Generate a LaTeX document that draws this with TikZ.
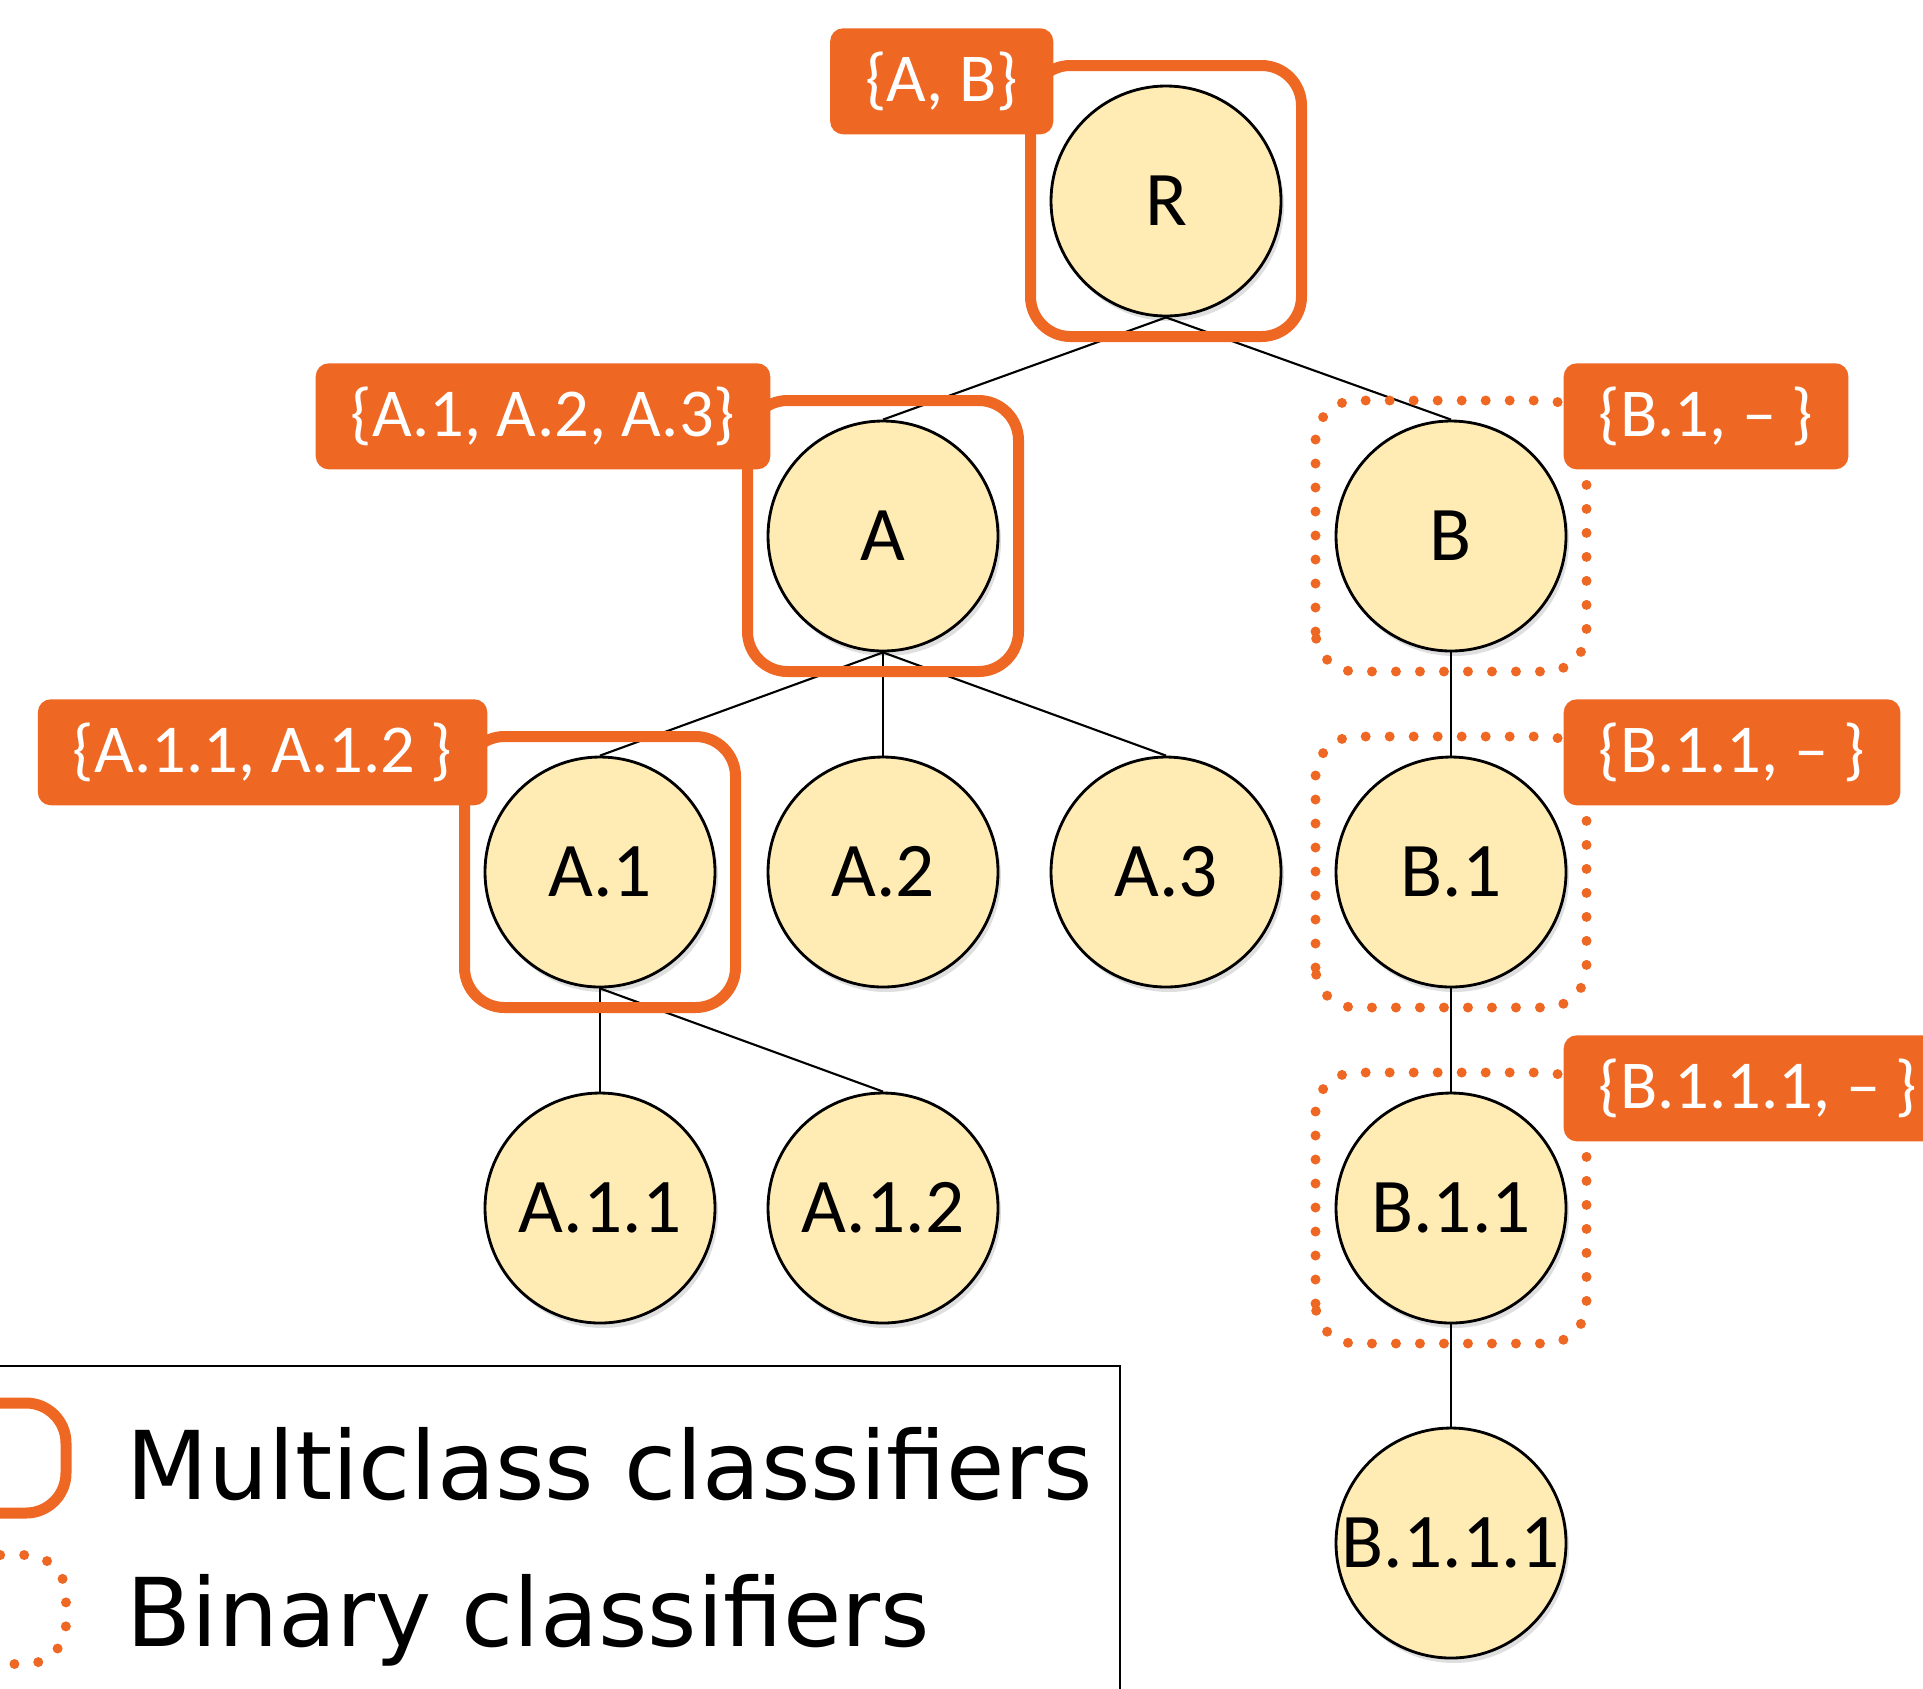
\documentclass[tikz,border=0pt]{standalone}
\usepackage{fontspec}
\setmainfont{Carlito}
\newfontfamily\legendfont{DejaVu Sans}
\usetikzlibrary{shadows}

\definecolor{clsorange}{RGB}{238,103,35}
\definecolor{nodefill}{RGB}{255,235,180}

\tikzset{
  class/.style={circle, draw=black, line width=0.8pt, fill=nodefill, minimum size=2.3cm, inner sep=0pt,
    font=\fontsize{22}{26}\selectfont,
    drop shadow={opacity=0.25, shadow xshift=0.03cm, shadow yshift=-0.05cm}},
  edge/.style={line width=0.6pt},
  multibox/.style={draw=clsorange, line width=0.11cm, rounded corners=0.4cm},
  binbox/.style={draw=clsorange, line width=0.1cm, line cap=round, dash pattern=on 0pt off 0.24cm, rounded corners=0.4cm},
  tag/.style={fill=clsorange, text=white, rounded corners=0.13cm, minimum height=1.06cm, inner xsep=0.35cm,
    font=\fontsize{19.5}{23}\selectfont},
  legtext/.style={font=\legendfont\fontsize{27}{32}\selectfont, anchor=base west, inner sep=0pt}
}

\begin{document}
\begin{tikzpicture}

    \useasboundingbox (0,0) rectangle (19.23,-16.88);

    % tree
    \node[class] (R) at (11.66,-2.01) {R};
    \node[class] (A) at (8.83,-5.36) {A};
    \node[class] (B) at (14.51,-5.36) {B};
    \node[class] (A1) at (6.00,-8.72) {A.1};
    \node[class] (A2) at (8.83,-8.72) {A.2};
    \node[class] (A3) at (11.66,-8.72) {A.3};
    \node[class] (B1) at (14.51,-8.72) {B.1};
    \node[class] (A11) at (6.00,-12.08) {A.1.1};
    \node[class] (A12) at (8.83,-12.08) {A.1.2};
    \node[class] (B11) at (14.51,-12.08) {B.1.1};
    \node[class] (B111) at (14.51,-15.43) {B.1.1.1};

    \foreach \p/\c in {R/A, R/B, A/A1, A/A2, A/A3, A1/A11, A1/A12, B/B1, B1/B11, B11/B111}
    \draw[edge] (\p.south) -- (\c.north);

    % classifiers
    \foreach \n in {R, A, A1}
    \draw[multibox] ([shift={(-1.355,-1.355)}]\n.center) rectangle ([shift={(1.355,1.355)}]\n.center);

    \foreach \n in {B, B1, B11}
    \draw[binbox] ([shift={(-1.355,-1.355)}]\n.center) rectangle ([shift={(1.355,1.355)}]\n.center);

    \node[tag, anchor=south east] (tagR) at ([shift={(-1.12,0.66)}]R.center) {\{A, B\}};
    \node[tag, anchor=south east] (tagA) at ([shift={(-1.12,0.66)}]A.center) {\{A.1, A.2, A.3\}};
    \node[tag, anchor=south east] (tagA1) at ([shift={(-1.12,0.66)}]A1.center) {\{A.1.1, A.1.2 \}};
    \node[tag, anchor=south west] (tagB) at ([shift={(1.12,0.66)}]B.center) {\{B.1, -- \}};
    \node[tag, anchor=south west] (tagB1) at ([shift={(1.12,0.66)}]B1.center) {\{B.1.1, -- \}};
    \node[tag, anchor=south west] (tagB11) at ([shift={(1.12,0.66)}]B11.center) {\{B.1.1.1, -- \}};

    % legend
    \draw[line width=0.8pt] (-0.2,-17.2) rectangle (11.20,-13.66);
    \draw[multibox] (-0.44,-15.13) rectangle (0.66,-14.03);
    \draw[binbox] (-0.44,-16.64) rectangle (0.66,-15.55);
    \node[legtext] (legM) at (1.26,-14.99) {Multiclass classifiers};
    \node[legtext] (legB) at (1.26,-16.46) {Binary classifiers};

\end{tikzpicture}
\end{document}
